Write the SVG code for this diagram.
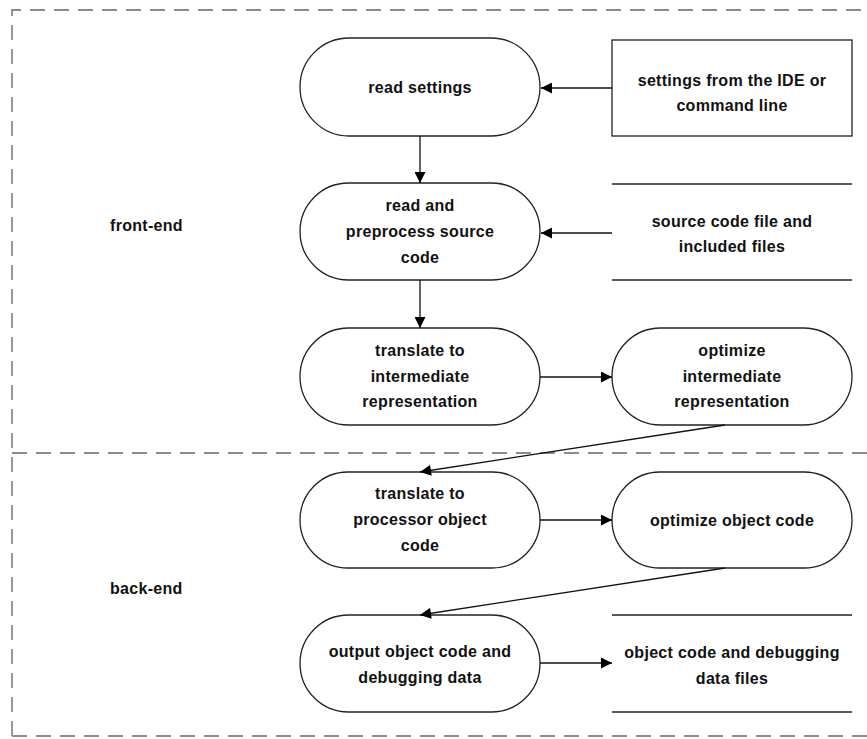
<svg xmlns="http://www.w3.org/2000/svg" width="867" height="739" viewBox="0 0 867 739">
<defs>
<marker id="ah" viewBox="0 0 10 10" refX="10" refY="5" markerWidth="13" markerHeight="11" markerUnits="userSpaceOnUse" orient="auto">
<path d="M0,0 L10,5 L0,10 Z" fill="#000"/>
</marker>
</defs>
<style>
.bd{fill:none;stroke:#8c8c8c;stroke-width:1.8;stroke-dasharray:15 9}
.nd{fill:#fff;stroke:#222;stroke-width:1.3}
.ln{stroke:#222;stroke-width:1.3}
.cn{fill:none;stroke:#111;stroke-width:1.3;marker-end:url(#ah)}
text{font-family:"Liberation Sans",Arial,sans-serif;font-size:16px;font-weight:bold;letter-spacing:0.3px;fill:#111;text-anchor:middle}
.lb{text-anchor:start}
</style>
<rect width="867" height="739" fill="#fff"/>
<g id="border">
<path class="bd" d="M12,736 L12,10 L867,10"/>
<path class="bd" d="M12,736 L867,736"/>
<path class="bd" d="M12,453 L867,453"/>
</g>
<g id="lbl-front"><text class="lb" x="110" y="231">front-end</text></g>
<g id="lbl-back"><text class="lb" x="110" y="594">back-end</text></g>
<g id="n1"><rect class="nd" x="300" y="38" width="240" height="98" rx="49"/><text x="420" y="93">read settings</text></g>
<g id="n2"><rect class="nd" x="300" y="183" width="240" height="97" rx="48.5"/><text x="420" y="211">read and</text><text x="420" y="237">preprocess source</text><text x="420" y="263">code</text></g>
<g id="n3"><rect class="nd" x="300" y="328" width="240" height="97" rx="48.5"/><text x="420" y="356">translate to</text><text x="420" y="382">intermediate</text><text x="420" y="407">representation</text></g>
<g id="n4"><rect class="nd" x="612" y="328" width="240" height="97" rx="48.5"/><text x="732" y="356">optimize</text><text x="732" y="382">intermediate</text><text x="732" y="407">representation</text></g>
<g id="n5"><rect class="nd" x="300" y="472" width="240" height="96" rx="48"/><text x="420" y="499">translate to</text><text x="420" y="525">processor object</text><text x="420" y="551">code</text></g>
<g id="n6"><rect class="nd" x="612" y="472" width="240" height="96" rx="48"/><text x="732" y="526">optimize object code</text></g>
<g id="n7"><rect class="nd" x="300" y="615" width="240" height="97" rx="48.5"/><text x="420" y="657">output object code and</text><text x="420" y="683">debugging data</text></g>
<g id="s1"><rect class="nd" x="612" y="40" width="240" height="96"/><text x="732" y="86">settings from the IDE or</text><text x="732" y="111">command line</text></g>
<g id="s2"><line class="ln" x1="612" y1="184" x2="852" y2="184"/><line class="ln" x1="612" y1="280" x2="852" y2="280"/><text x="732" y="227">source code file and</text><text x="732" y="252">included files</text></g>
<g id="s3"><line class="ln" x1="612" y1="615" x2="852" y2="615"/><line class="ln" x1="612" y1="712" x2="852" y2="712"/><text x="732" y="658">object code and debugging</text><text x="732" y="684">data files</text></g>
<g id="connectors">
<line class="cn" x1="612" y1="88" x2="541" y2="88"/>
<line class="cn" x1="420" y1="136" x2="420" y2="183"/>
<line class="cn" x1="612" y1="233" x2="541" y2="233"/>
<line class="cn" x1="420" y1="280" x2="420" y2="328"/>
<line class="cn" x1="540" y1="377" x2="612" y2="377"/>
<line class="cn" x1="725" y1="425" x2="420" y2="472"/>
<line class="cn" x1="540" y1="520" x2="612" y2="520"/>
<line class="cn" x1="725" y1="568" x2="420" y2="615"/>
<line class="cn" x1="540" y1="663" x2="612" y2="663"/>
</g>
</svg>
